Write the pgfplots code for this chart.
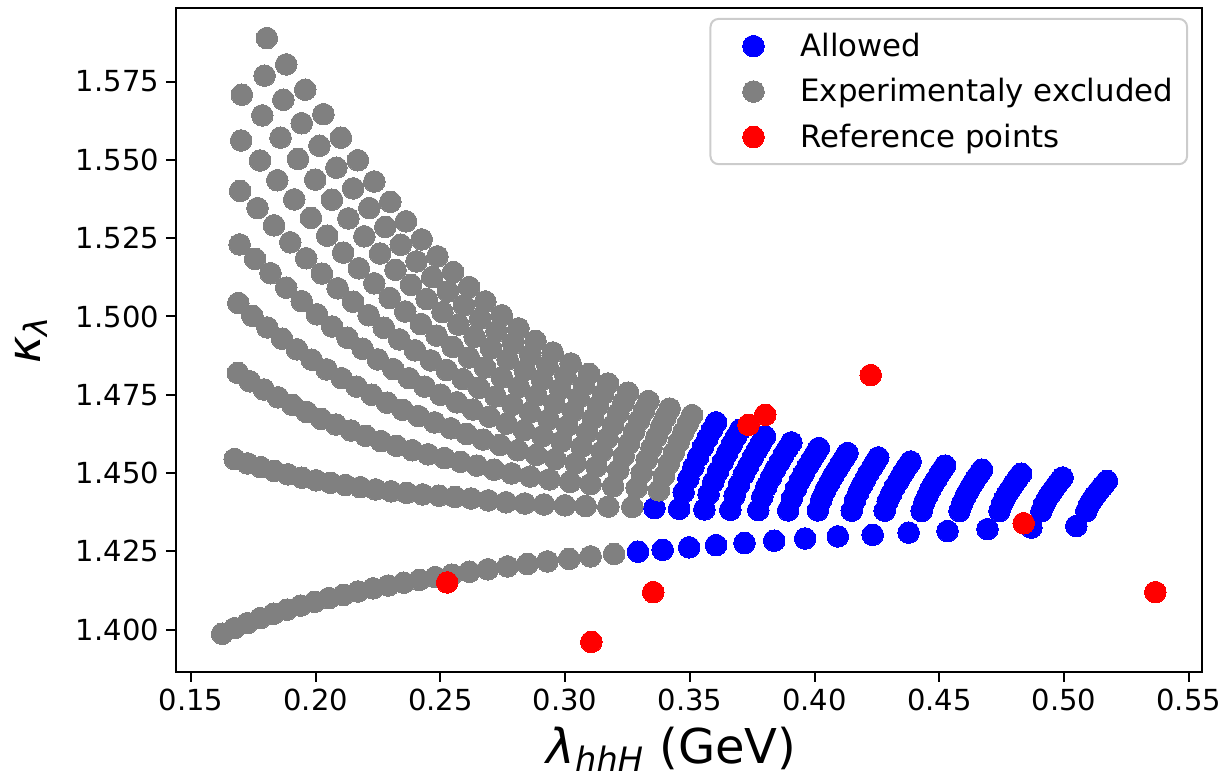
\documentclass[border=0pt]{standalone}
\usepackage{fontspec}
\setmainfont{DejaVu Sans}
\usepackage{pgfplots}
\pgfplotsset{compat=1.18}
\definecolor{mplgray}{HTML}{808080}
\definecolor{legedge}{HTML}{CCCCCC}
\begin{document}
\begin{tikzpicture}[font=\fontsize{14.5}{17}\selectfont]
\begin{axis}[
  name=ax, scale only axis, width=513pt, height=332pt,
  xmin=0.1440, xmax=0.5553, ymin=1.3865, ymax=1.5985,
  xtick={0.15,0.2,0.25,0.3,0.35,0.4,0.45,0.5,0.55},
  ytick={1.4,1.425,1.45,1.475,1.5,1.525,1.55,1.575},
  scaled ticks=false,
  x tick label style={/pgf/number format/.cd, fixed, fixed zerofill, precision=2, assume math mode=true},
  y tick label style={/pgf/number format/.cd, fixed, fixed zerofill, precision=3, assume math mode=true},
  tick align=outside, tick pos=left,
  major tick length=5pt,
  every tick/.style={black, line width=1pt},
  axis line style={line width=1pt},
  xlabel={{\itshape λ}\textsubscript{\itshape hhH} (GeV)},
  ylabel={{\itshape κ}\textsubscript{\itshape λ}},
  xlabel style={font=\fontsize{24}{28}\selectfont, at={(axis description cs:0.483,-0.072)}, anchor=north},
  ylabel style={font=\fontsize{23}{27}\selectfont, at={(axis description cs:-0.118,0.5)}, anchor=south},
  legend style={at={(axis description cs:0.9864,0.985)}, anchor=north east, draw=legedge, line width=1pt,
    rounded corners=4pt, fill=white, fill opacity=0.8, text opacity=1, draw opacity=1,
    font=\fontsize{15.4}{18}\selectfont, inner xsep=5pt, inner ysep=5pt, row sep=5.5pt,
    cells={anchor=west}},
  legend image code/.code={\draw[#1, fill opacity=1, draw opacity=1] plot coordinates {(0pt,0pt)};\path[draw=none,fill=none] (-16.5pt,-6pt) -- (21.5pt,6pt);},
]
% Allowed
\addplot[only marks, mark=*, mark size=5.4pt, color=blue, mark options={fill=blue, draw=blue, line width=0pt}] coordinates {
(0.3292,1.4249) (0.3391,1.4255) (0.3497,1.4263) (0.3605,1.4270) (0.3719,1.4277) (0.3838,1.4284) (0.3962,1.4291) (0.4093,1.4298) (0.4233,1.4303) (0.4377,1.4310) (0.4533,1.4315) (0.4693,1.4321) (0.4869,1.4326) (0.5049,1.4331)
(0.3358,1.4388) (0.3457,1.4386) (0.3558,1.4384) (0.3662,1.4383) (0.3774,1.4382) (0.3894,1.4381) (0.4013,1.4381) (0.4149,1.4380) (0.4281,1.4380) (0.4429,1.4379) (0.4581,1.4379) (0.4741,1.4379) (0.4909,1.4378) (0.5089,1.4378)
(0.3475,1.4439) (0.3494,1.4482) (0.3514,1.4519) (0.3533,1.4552) (0.3552,1.4583) (0.3571,1.4612) (0.3588,1.4638) (0.3605,1.4662)
(0.3575,1.4433) (0.3594,1.4472) (0.3613,1.4506) (0.3632,1.4536) (0.3650,1.4565) (0.3668,1.4592) (0.3685,1.4616) (0.3701,1.4638)
(0.3679,1.4428) (0.3697,1.4464) (0.3716,1.4496) (0.3734,1.4523) (0.3752,1.4550) (0.3769,1.4574) (0.3785,1.4596) (0.3801,1.4617)
(0.3790,1.4424) (0.3807,1.4457) (0.3825,1.4486) (0.3842,1.4512) (0.3860,1.4536) (0.3876,1.4559) (0.3892,1.4579) (0.3907,1.4598)
(0.3909,1.4419) (0.3925,1.4450) (0.3941,1.4477) (0.3957,1.4500) (0.3973,1.4523) (0.3989,1.4544) (0.4003,1.4562) (0.4017,1.4580)
(0.4027,1.4416) (0.4043,1.4445) (0.4059,1.4469) (0.4074,1.4491) (0.4090,1.4511) (0.4105,1.4531) (0.4119,1.4548) (0.4132,1.4564)
(0.4162,1.4413) (0.4176,1.4439) (0.4190,1.4462) (0.4204,1.4482) (0.4217,1.4501) (0.4231,1.4519) (0.4243,1.4535) (0.4255,1.4550)
(0.4293,1.4410) (0.4307,1.4434) (0.4321,1.4456) (0.4335,1.4474) (0.4348,1.4492) (0.4361,1.4508) (0.4373,1.4523) (0.4385,1.4537)
(0.4440,1.4407) (0.4453,1.4429) (0.4465,1.4449) (0.4477,1.4466) (0.4490,1.4482) (0.4501,1.4498) (0.4512,1.4511) (0.4523,1.4524)
(0.4592,1.4404) (0.4604,1.4425) (0.4616,1.4442) (0.4627,1.4458) (0.4639,1.4473) (0.4650,1.4487) (0.4661,1.4499) (0.4671,1.4511)
(0.4751,1.4402) (0.4763,1.4420) (0.4774,1.4436) (0.4786,1.4450) (0.4797,1.4464) (0.4808,1.4476) (0.4818,1.4488) (0.4828,1.4498)
(0.4919,1.4399) (0.4930,1.4415) (0.4942,1.4430) (0.4953,1.4443) (0.4964,1.4455) (0.4974,1.4466) (0.4984,1.4476) (0.4994,1.4486)
(0.5099,1.4397) (0.5110,1.4412) (0.5121,1.4425) (0.5132,1.4436) (0.5143,1.4447) (0.5153,1.4457) (0.5163,1.4466) (0.5172,1.4475)
};
\addlegendentry{Allowed}
% Experimentally excluded
\addplot[only marks, mark=*, mark size=5.4pt, color=mplgray, mark options={fill=mplgray, draw=mplgray, line width=0pt}] coordinates {
(0.1625,1.3987) (0.1675,1.4005) (0.1726,1.4021) (0.1778,1.4037) (0.1831,1.4051) (0.1885,1.4064) (0.1940,1.4077) (0.1996,1.4089) (0.2053,1.4101) (0.2111,1.4111) (0.2170,1.4122) (0.2230,1.4132) (0.2291,1.4141) (0.2353,1.4150) (0.2416,1.4159) (0.2480,1.4168) (0.2546,1.4176) (0.2616,1.4185) (0.2690,1.4193) (0.2769,1.4202) (0.2849,1.4210) (0.2929,1.4218) (0.3016,1.4226) (0.3102,1.4234) (0.3196,1.4242)
(0.1675,1.4545) (0.1727,1.4531) (0.1780,1.4519) (0.1834,1.4507) (0.1889,1.4496) (0.1945,1.4485) (0.2002,1.4477) (0.2060,1.4469) (0.2119,1.4462) (0.2179,1.4455) (0.2240,1.4448) (0.2302,1.4442) (0.2365,1.4437) (0.2429,1.4432) (0.2494,1.4428) (0.2558,1.4424) (0.2623,1.4419) (0.2692,1.4413) (0.2763,1.4407) (0.2838,1.4403) (0.2915,1.4400) (0.2999,1.4397) (0.3082,1.4395) (0.3173,1.4393) (0.3269,1.4392)
(0.1688,1.4820) (0.1690,1.5043) (0.1695,1.5230) (0.1697,1.5401) (0.1701,1.5562) (0.1704,1.5708)
(0.1736,1.4793) (0.1746,1.5002) (0.1757,1.5184) (0.1767,1.5346) (0.1777,1.5498) (0.1786,1.5642) (0.1795,1.5769) (0.1804,1.5889)
(0.1792,1.4767) (0.1806,1.4965) (0.1819,1.5138) (0.1833,1.5291) (0.1846,1.5435) (0.1859,1.5571) (0.1870,1.5692) (0.1882,1.5805)
(0.1849,1.4742) (0.1865,1.4929) (0.1882,1.5092) (0.1898,1.5237) (0.1914,1.5374) (0.1929,1.5503) (0.1944,1.5617) (0.1958,1.5724)
(0.1906,1.4718) (0.1925,1.4895) (0.1944,1.5049) (0.1962,1.5186) (0.1981,1.5315) (0.1998,1.5437) (0.2015,1.5545) (0.2031,1.5646)
(0.1964,1.4695) (0.1984,1.4862) (0.2005,1.5007) (0.2025,1.5137) (0.2046,1.5258) (0.2065,1.5373) (0.2083,1.5475) (0.2101,1.5571)
(0.2022,1.4673) (0.2044,1.4831) (0.2066,1.4968) (0.2088,1.5090) (0.2110,1.5204) (0.2131,1.5313) (0.2150,1.5409) (0.2169,1.5499)
(0.2081,1.4655) (0.2104,1.4803) (0.2127,1.4932) (0.2150,1.5047) (0.2173,1.5154) (0.2195,1.5256) (0.2215,1.5346) (0.2235,1.5431)
(0.2141,1.4636) (0.2164,1.4776) (0.2188,1.4897) (0.2212,1.5004) (0.2235,1.5106) (0.2258,1.5201) (0.2279,1.5286) (0.2299,1.5366)
(0.2201,1.4619) (0.2225,1.4750) (0.2249,1.4863) (0.2273,1.4964) (0.2297,1.5059) (0.2320,1.5149) (0.2341,1.5229) (0.2362,1.5304)
(0.2262,1.4602) (0.2286,1.4725) (0.2311,1.4832) (0.2335,1.4927) (0.2359,1.5016) (0.2382,1.5101) (0.2404,1.5176) (0.2425,1.5246)
(0.2324,1.4587) (0.2349,1.4702) (0.2374,1.4803) (0.2398,1.4892) (0.2422,1.4976) (0.2445,1.5056) (0.2467,1.5126) (0.2488,1.5192)
(0.2387,1.4573) (0.2412,1.4682) (0.2437,1.4776) (0.2461,1.4860) (0.2485,1.4939) (0.2508,1.5014) (0.2530,1.5080) (0.2551,1.5142)
(0.2451,1.4560) (0.2476,1.4662) (0.2501,1.4750) (0.2525,1.4829) (0.2549,1.4903) (0.2572,1.4974) (0.2594,1.5036) (0.2615,1.5094)
(0.2516,1.4548) (0.2541,1.4643) (0.2566,1.4726) (0.2590,1.4800) (0.2614,1.4869) (0.2637,1.4935) (0.2659,1.4993) (0.2680,1.5048)
(0.2581,1.4536) (0.2605,1.4625) (0.2630,1.4703) (0.2655,1.4772) (0.2679,1.4837) (0.2703,1.4898) (0.2725,1.4953) (0.2746,1.5004)
(0.2646,1.4524) (0.2671,1.4607) (0.2696,1.4680) (0.2721,1.4745) (0.2746,1.4806) (0.2769,1.4863) (0.2792,1.4914) (0.2813,1.4962)
(0.2715,1.4511) (0.2739,1.4590) (0.2765,1.4658) (0.2789,1.4718) (0.2814,1.4775) (0.2838,1.4829) (0.2860,1.4877) (0.2881,1.4922)
(0.2785,1.4499) (0.2810,1.4573) (0.2835,1.4637) (0.2859,1.4694) (0.2884,1.4747) (0.2907,1.4798) (0.2929,1.4843) (0.2950,1.4885)
(0.2860,1.4489) (0.2884,1.4558) (0.2909,1.4618) (0.2933,1.4671) (0.2957,1.4721) (0.2980,1.4769) (0.3001,1.4811) (0.3022,1.4850)
(0.2937,1.4480) (0.2960,1.4545) (0.2985,1.4601) (0.3008,1.4650) (0.3032,1.4697) (0.3054,1.4741) (0.3076,1.4780) (0.3096,1.4817)
(0.3020,1.4472) (0.3042,1.4532) (0.3066,1.4584) (0.3088,1.4630) (0.3111,1.4674) (0.3132,1.4715) (0.3152,1.4752) (0.3172,1.4786)
(0.3102,1.4465) (0.3125,1.4521) (0.3147,1.4569) (0.3170,1.4612) (0.3192,1.4653) (0.3213,1.4691) (0.3233,1.4725) (0.3252,1.4757)
(0.3192,1.4458) (0.3213,1.4510) (0.3235,1.4555) (0.3256,1.4595) (0.3277,1.4633) (0.3297,1.4669) (0.3316,1.4700) (0.3334,1.4730)
(0.3287,1.4453) (0.3307,1.4501) (0.3327,1.4543) (0.3346,1.4580) (0.3366,1.4616) (0.3385,1.4649) (0.3402,1.4678) (0.3419,1.4706)
(0.3376,1.4445) (0.3396,1.4491) (0.3416,1.4531) (0.3436,1.4566) (0.3455,1.4599) (0.3474,1.4631) (0.3492,1.4659) (0.3509,1.4685)
};
\addlegendentry{Experimentaly excluded}
% Reference points
\addplot[only marks, mark=*, mark size=5.4pt, color=red, mark options={fill=red, draw=red, line width=0pt}] coordinates {
(0.2527,1.4151) (0.3105,1.3961) (0.3353,1.4120) (0.3735,1.4654) (0.3802,1.4686) (0.4225,1.4813) (0.4838,1.4340) (0.5366,1.4120)
};
\addlegendentry{Reference points}
\end{axis}
\pgfresetboundingbox
\path[use as bounding box] ([xshift=-88pt,yshift=-53pt]ax.south west) rectangle ([xshift=14pt,yshift=4pt]ax.north east);
\end{tikzpicture}
\end{document}
